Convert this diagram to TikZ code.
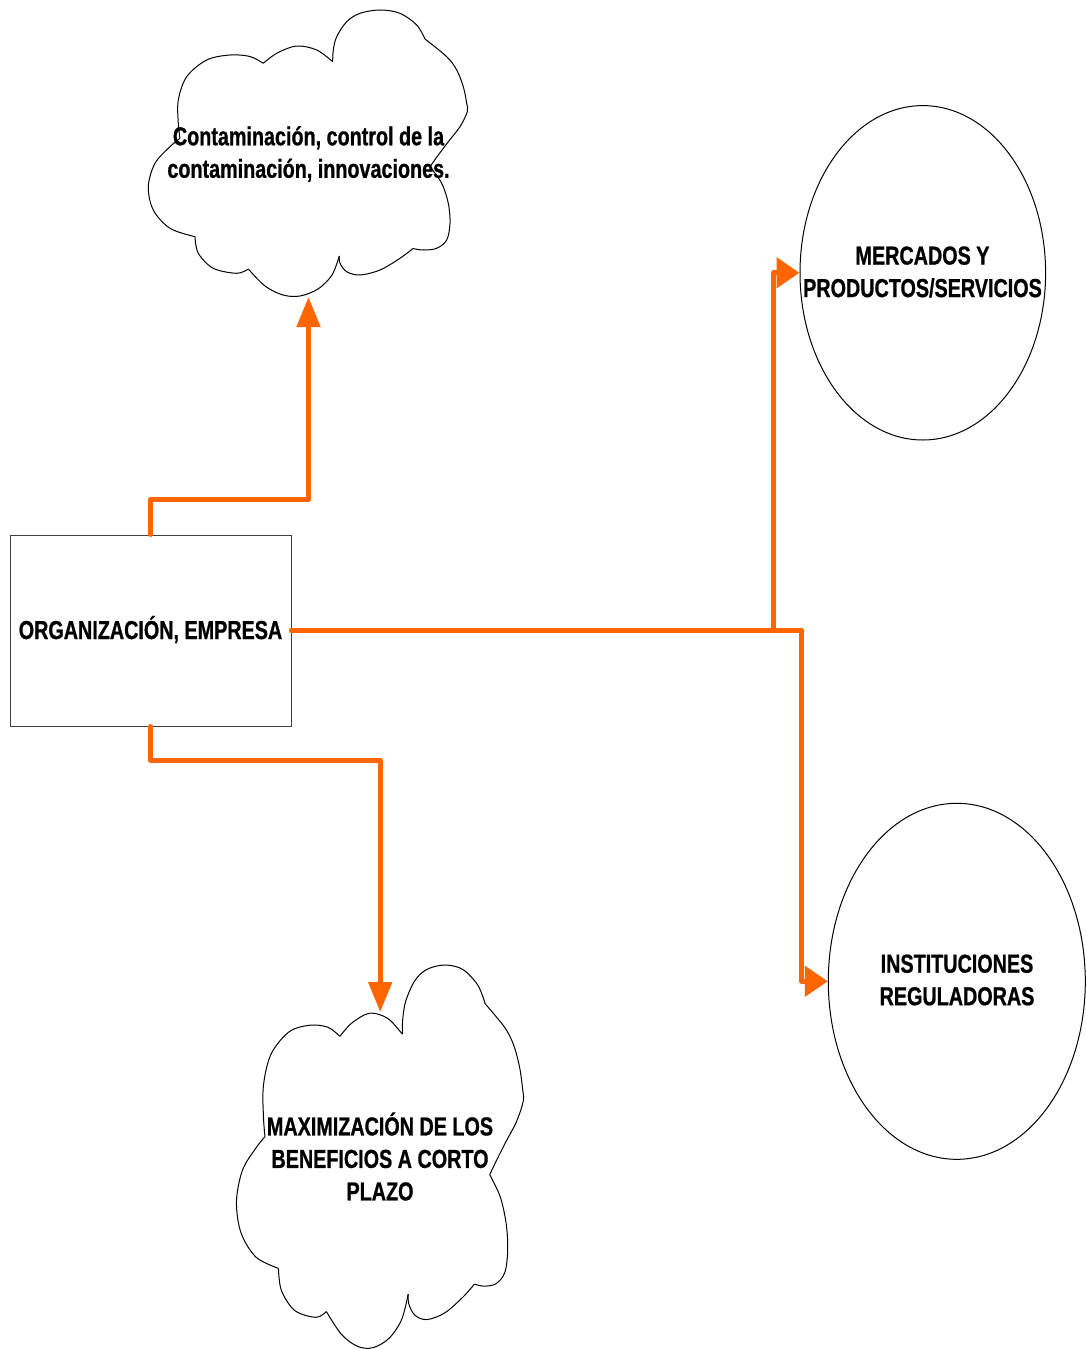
\documentclass[tikz,border=0pt]{standalone}
\usepackage{fontspec}
\usetikzlibrary{arrows.meta,shapes.geometric}
\newfontfamily\lab[FakeStretch=0.76,FakeBold=0.8]{Liberation Sans Bold}
\definecolor{conncol}{RGB}{255,102,0}
\tikzset{
  lbl/.style={font=\lab\fontsize{26}{32.5}\selectfont, align=center, text=black, inner sep=0pt},
  cloudline/.style={draw=black, line width=1pt},
  shapeline/.style={draw=black, line width=1pt},
  conn/.style={draw=conncol, line width=5pt, line cap=round, line join=round},
  vtip/.style={-{Triangle[length=30pt,width=23pt]}},
  htip/.style={-{Triangle[length=23pt,width=30pt]}},
}
\newcommand{\mycloud}{%
  \draw[cloudline] plot[smooth,tension=0.55] coordinates {(113.3,53.3) (126.7,43.3) (146.7,36) (166.7,40) (182.7,51.7)};
  \draw[cloudline] plot[smooth,tension=0.55] coordinates {(182.7,51.7) (183.3,40) (186.7,26.7) (196.7,11.7) (210,3.3) (230,0) (250,3.3) (266.7,15) (275,29)};
  \draw[cloudline] plot[smooth,tension=0.55] coordinates {(275,29) (296.7,46.7) (306.7,60) (313.3,76.7) (316.7,93.3) (317.3,101.7) (310,116.7) (298.3,131.7) (288.3,145) (280,156.7)};
  \draw[cloudline] plot[smooth,tension=0.55] coordinates {(280,156.7) (291.7,173.3) (298.3,193.3) (300,213.3) (296.7,230) (286.7,238.3) (273.3,240) (263,238.5)};
  \draw[cloudline] plot[smooth,tension=0.55] coordinates {(263,238.5) (250,248.3) (230,260) (210,265) (196.7,261.7) (190,253.3) (189.3,246)};
  \draw[cloudline] plot[smooth,tension=0.55] coordinates {(189.3,246) (182,265) (168,279) (150,286) (133,285) (115,276) (98.3,259)};
  \draw[cloudline] plot[smooth,tension=0.55] coordinates {(98.3,259) (86.7,263.3) (63.3,258.3) (48.3,243.3) (45,226.7)};
  \draw[cloudline] plot[smooth,tension=0.55] coordinates {(45,226.7) (20,218.3) (3.3,200) (-1.7,176.7) (5,153.3) (20,136.7) (30,128.3)};
  \draw[cloudline] plot[smooth,tension=0.55] coordinates {(30,128.3) (28.3,113.3) (28.3,90) (36.7,66.7) (56.7,50) (80,45) (100,46.5) (113.3,53.3)};
}
\begin{document}
\begin{tikzpicture}[x=1pt,y=-1pt]
  \useasboundingbox (0,0) rectangle (1085,1349);
  % clouds
  \begin{scope}[shift={(150,10)}]
    \mycloud
  \end{scope}
  \begin{scope}[shift={(238,965)}, xscale=0.899, yscale=1.338]
    \mycloud
  \end{scope}
  \coordinate (c1b) at (308.5,297);
  \coordinate (c2t) at (380.2,1012);
  % box and ellipses
  \node[shapeline, draw=black!75, rectangle, minimum width=281pt, minimum height=191pt, inner sep=0pt] (org) at (150.5,630.5) {};
  \node[lbl] at (150.5,629.5) {ORGANIZACIÓN, EMPRESA};
  \node[shapeline, ellipse, minimum width=245.6pt, minimum height=334.4pt, inner sep=0pt] (mer) at (922.8,272.8) {};
  \node[lbl] at (922.5,272) {MERCADOS Y\\PRODUCTOS/SERVICIOS};
  \node[shapeline, ellipse, minimum width=257pt, minimum height=356pt, inner sep=0pt] (ins) at (956.8,981.3) {};
  \node[lbl] at (957,980) {INSTITUCIONES\\REGULADORAS};
  % cloud texts
  \node[lbl] (cont) at (308.5,154) {Contaminación, control de la\\contaminación, innovaciones.};
  \node[lbl] (maxi) at (380,1156.5) {MAXIMIZACIÓN DE LOS\\BENEFICIOS A CORTO\\PLAZO};
  % connectors
  \draw[conn, vtip] (org.north) -- (150.5,499.5) -| (c1b);
  \draw[conn, htip] (org.east) -- (773.5,630.5) |- (mer.west);
  \draw[conn, htip] (org.east) -- (801.8,630.5) |- (ins.west);
  \draw[conn, vtip] (org.south) -- (150.5,760) -| (c2t);
\end{tikzpicture}
\end{document}
